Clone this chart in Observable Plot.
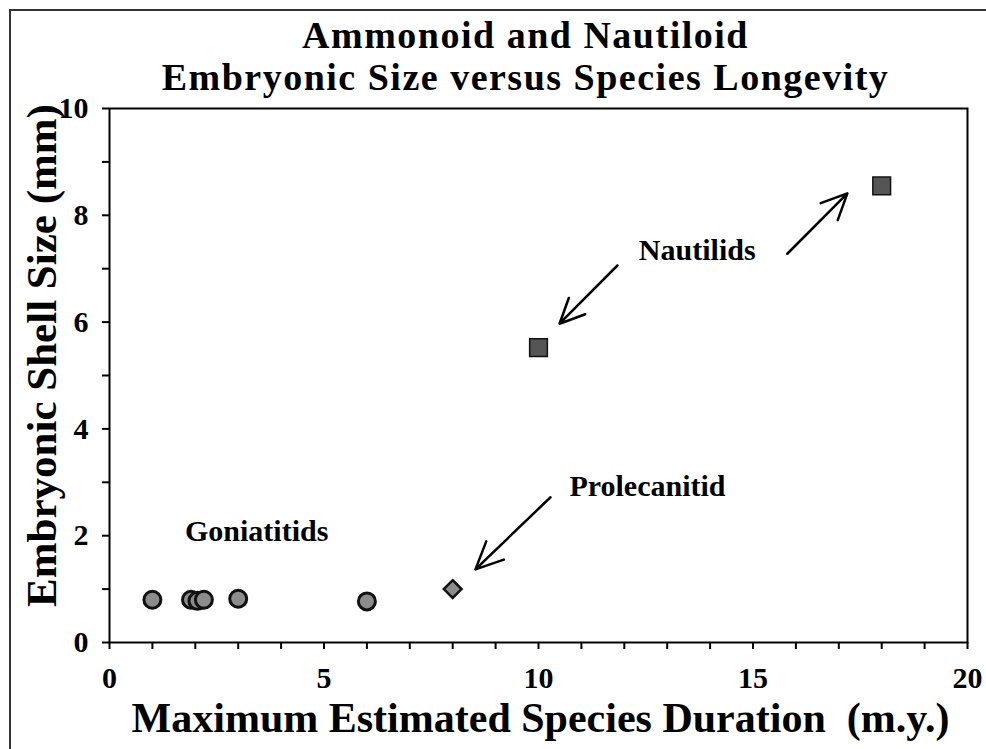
<!DOCTYPE html>
<html>
<head>
<meta charset="utf-8">
<script src="https://cdn.jsdelivr.net/npm/d3@7"></script>
<script src="https://cdn.jsdelivr.net/npm/@observablehq/plot@0.6"></script>
<style>
  html, body { margin: 0; padding: 0; background: white; }
  #wrap { position: relative; width: 986px; height: 749px; overflow: hidden; }
  #wrap svg { position: absolute; left: 0; top: 0; }
  #border { position: absolute; left: 9px; top: 9px; width: 990px; height: 760px;
            border-left: 2px solid #333; border-top: 2px solid #333; pointer-events: none; }
</style>
</head>
<body>
<div id="wrap"><div id="border"></div></div>
<script>
// ---- data ----
const goniatitidX = [1, 1.9, 2.05, 2.2, 3, 6];
const goniatitidY = [0.8, 0.8, 0.78, 0.8, 0.82, 0.77];
const prolecanitidX = [8];
const prolecanitidY = [1.0];
const nautilidX = [10, 18];
const nautilidY = [5.52, 8.55];

const xTicks = [0,1,2,3,4,5,6,7,8,9,10,11,12,13,14,15,16,17,18,19,20];
const xTickLabels = [0, 5, 10, 15, 20];
const yTicks = [0,1,2,3,4,5,6,7,8,9,10];
const yTickLabels = [0, 2, 4, 6, 8, 10];

const titleLines = ["Ammonoid and Nautiloid", "Embryonic Size versus Species Longevity"];
const xLabel = "Maximum Estimated Species Duration  (m.y.)";
const yLabel = "Embryonic Shell Size (mm)";

// annotations (data coordinates)
const annoText = ["Goniatitids", "Prolecanitid", "Nautilids"];
const annoX = [3.43, 12.54, 13.7];
const annoY = [1.91, 2.75, 7.17];

const arrowX1 = [10.28, 11.84, 15.80];
const arrowY1 = [2.72, 7.06, 7.28];
const arrowX2 = [8.53, 10.49, 17.20];
const arrowY2 = [1.37, 5.97, 8.41];

// ---- build tables ----
const gon = goniatitidX.map((x, i) => ({x, y: goniatitidY[i]}));
const prol = prolecanitidX.map((x, i) => ({x, y: prolecanitidY[i]}));
const naut = nautilidX.map((x, i) => ({x, y: nautilidY[i]}));
const annos = annoText.map((t, i) => ({t, x: annoX[i], y: annoY[i]}));
const arrows = arrowX1.map((x1, i) => ({x1, y1: arrowY1[i], x2: arrowX2[i], y2: arrowY2[i]}));

const font = "Liberation Serif, Times New Roman, serif";

const chart = Plot.plot({
  width: 986,
  height: 749,
  marginLeft: 109,
  marginRight: 19,
  marginTop: 108,
  marginBottom: 107,
  x: {domain: [0, 20]},
  y: {domain: [0, 10]},
  style: {fontFamily: font, fontWeight: "bold", color: "black", background: "white", overflow: "visible"},
  marks: [
    Plot.axisX(xTicks, {tickSize: 7, strokeWidth: 2, text: null, label: null}),
    Plot.axisY(yTicks, {tickSize: 7, strokeWidth: 2, text: null, label: null}),
    Plot.text(xTickLabels, {x: d => d, text: d => String(d), frameAnchor: "bottom", dy: 45, lineAnchor: "bottom", textAnchor: "middle", fontSize: 30, fontWeight: "bold", fill: "black"}),
    Plot.text(yTickLabels, {y: d => d, text: d => String(d), frameAnchor: "left", dx: -21, lineAnchor: "middle", textAnchor: "end", fontSize: 30, fontWeight: "bold", fill: "black"}),
    Plot.frame({stroke: "black", strokeWidth: 2}),
    Plot.arrow(arrows, {x1: "x1", y1: "y1", x2: "x2", y2: "y2", stroke: "black", strokeWidth: 2.5, headLength: 18, headAngle: 50}),
    Plot.dot(gon, {x: "x", y: "y", r: 8.5, symbol: "circle", fill: "#8c8c8c", stroke: "#111", strokeWidth: 3}),
    Plot.dot(prol, {x: "x", y: "y", r: 8, symbol: "diamond2", fill: "#8c8c8c", stroke: "#111", strokeWidth: 2.5}),
    Plot.dot(naut, {x: "x", y: "y", r: 10, symbol: "square", fill: "#555", stroke: "#111", strokeWidth: 1.5}),
    Plot.text(annos, {x: "x", y: "y", text: "t", fontSize: 30, fontWeight: "bold", lineAnchor: "bottom", textAnchor: "middle", fill: "black"}),
    Plot.text([titleLines[0]], {text: d => d, frameAnchor: "top", dx: -13, dy: -61, lineAnchor: "bottom", fontSize: 38, fontWeight: "bold", fill: "black"}),
    Plot.text([titleLines[1]], {text: d => d, frameAnchor: "top", dx: -13, dy: -19, lineAnchor: "bottom", fontSize: 38, fontWeight: "bold", fill: "black"}),
    Plot.text([xLabel], {text: d => d, frameAnchor: "bottom", dx: 2, dy: 89, lineAnchor: "bottom", fontSize: 42, fontWeight: "bold", fill: "black"}),
    Plot.text([yLabel], {text: d => d, frameAnchor: "left", dx: -67, dy: -20, rotate: -90, textAnchor: "middle", lineAnchor: "middle", fontSize: 43, fontWeight: "bold", fill: "black"})
  ]
});
d3.select(chart).selectAll("text")
  .filter(function() { return titleLines.includes(this.textContent); })
  .style("letter-spacing", "1.5px");
document.getElementById("wrap").prepend(chart);
</script>
</body>
</html>
